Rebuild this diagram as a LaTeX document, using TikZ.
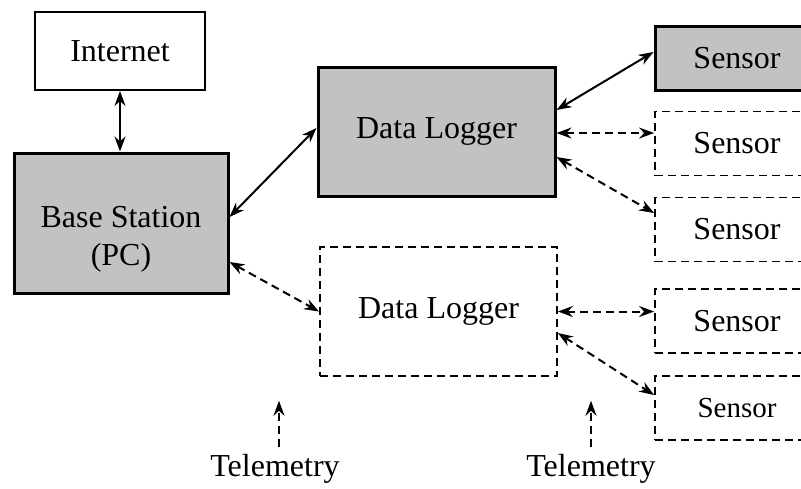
\documentclass[tikz,border=0pt]{standalone}
\usepackage{fontspec}
\setmainfont{Liberation Serif}
\usetikzlibrary{arrows.meta}

\begin{document}
\begin{tikzpicture}[x=0.5pt, y=-0.5pt, line width=1pt,
        >={Stealth[length=7.5pt, width=5.5pt, inset=2.5pt]},
        every node/.style = {font=\fontsize{16}{19}\selectfont},
        main/.style = {draw, line width=1pt, minimum width=85pt, minimum height=39pt},
        shaded/.style = {draw, fill=black!24, line width=1.5pt},
        dashbox/.style = {draw, line width=0.9pt, dash pattern=on 4pt off 2.5pt},
        logger/.style = {minimum width=118.5pt, minimum height=64.5pt},
        sensor/.style = {minimum width=82pt, minimum height=32pt},
        dasharrow/.style = {dash pattern=on 4pt off 2.5pt}]
        \useasboundingbox (0,0) rectangle (801,488);
        \clip (0,0) rectangle (801,488);

        \node[main] (1) at (120,51) {Internet};
        \node[shaded, minimum width=107pt, minimum height=70pt, align=center] (2) at (121,223) {\rule{0pt}{27pt}Base Station\\(PC)};
        \node[shaded, logger] (3) at (436.5,131.5) {Data Logger};
        \node[dashbox, logger] (4) at (438.5,311.5) {Data Logger};
        \node[shaded, sensor] (5) at (737,58.5) {Sensor};
        \node[dashbox, sensor] (6) at (737,143.5) {Sensor};
        \node[dashbox, sensor] (7) at (737,229.5) {Sensor};
        \node[dashbox, sensor] (8) at (737,321) {Sensor};
        \node[dashbox, sensor, font=\fontsize{14.5}{17}\selectfont] (9) at (737,408) {Sensor};
        \node (10) at (275,469) {Telemetry};
        \node (11) at (591,469) {Telemetry};

        \draw[<->] (1.south) -- (1.south |- 2.north);
        \draw[<->] ([yshift=3pt]2.east) -- ([yshift=1.75pt]3.west);
        \draw[<->, dasharrow] ([yshift=-19.5pt]2.east) -- (4.west);
        \draw[<->] ([yshift=10.75pt]3.east) -- ([yshift=3.25pt]5.west);
        \draw[<->, dasharrow] ([yshift=-0.75pt]3.east) -- ([yshift=-0.75pt]3.east -| 6.west);
        \draw[<->, dasharrow] ([yshift=-12.75pt]3.east) -- ([yshift=8.25pt]7.west);
        \draw[<->, dasharrow] (4.east) -- (4.east -| 8.west);
        \draw[<->, dasharrow] ([yshift=-10.75pt]4.east) -- ([yshift=6.5pt]9.west);
        \draw[->, dasharrow] ([xshift=2pt]10.north) -- ++(0,-46);
        \draw[->, dasharrow] (11.north) -- ++(0,-46);

    \end{tikzpicture}
\end{document}
